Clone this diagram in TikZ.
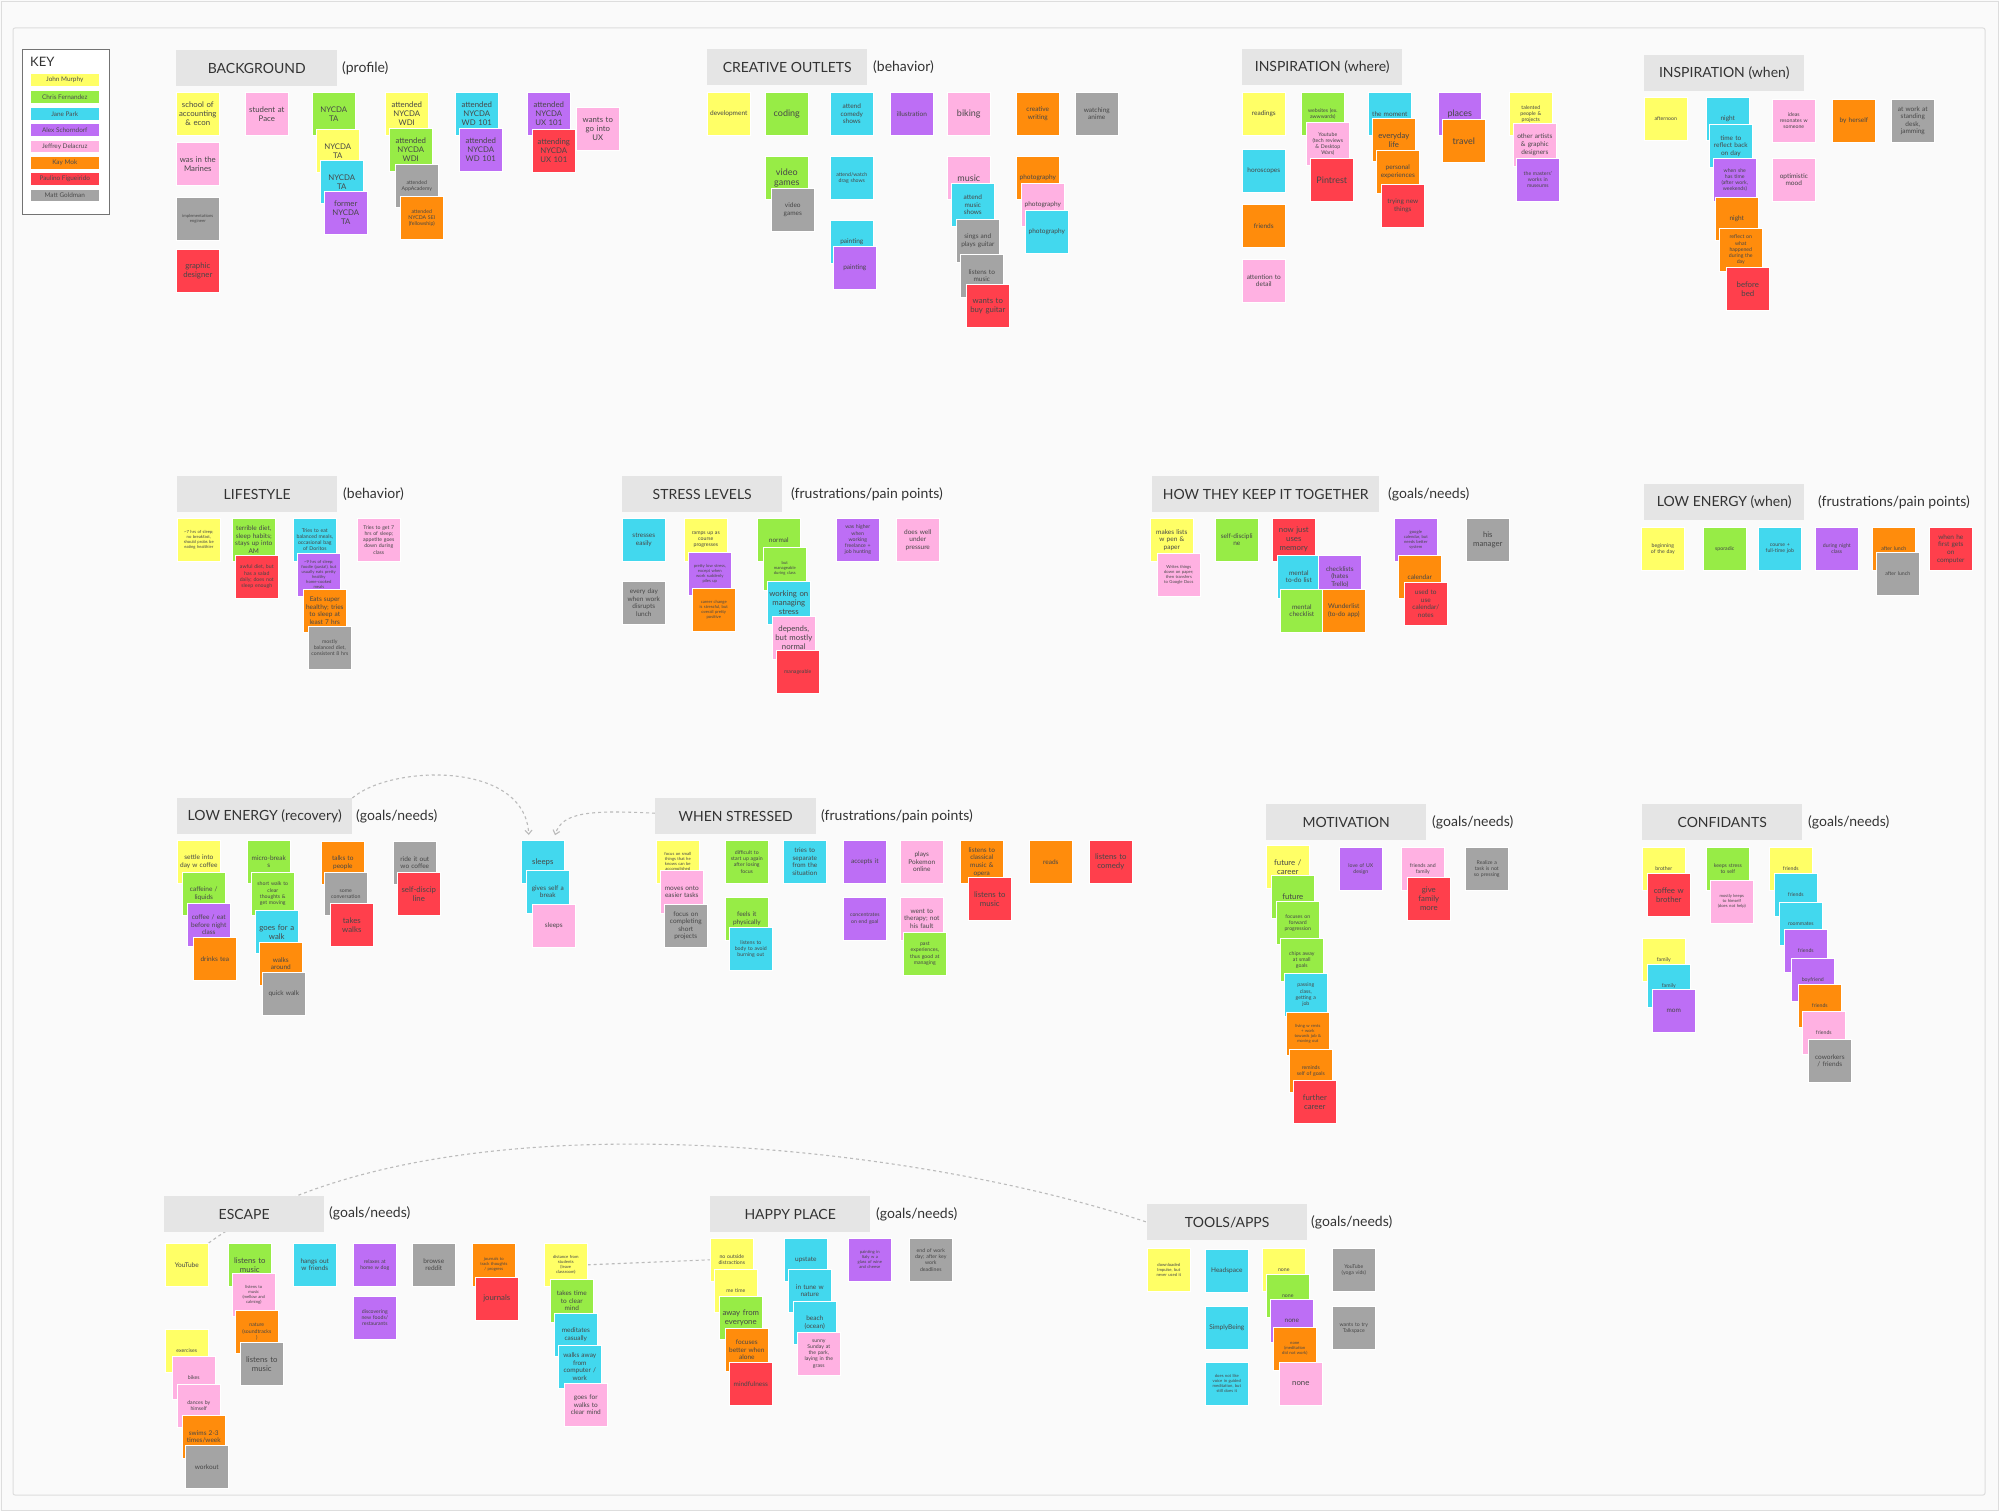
\documentclass[tikz,border=0pt]{standalone}
\usepackage{fontspec}
\setmainfont{Lato}
\usetikzlibrary{arrows.meta,backgrounds}
\definecolor{cY}{HTML}{FFFF66}
\definecolor{cG}{HTML}{97EC46}
\definecolor{cC}{HTML}{42D8EE}
\definecolor{cP}{HTML}{BD6EF5}
\definecolor{cK}{HTML}{FFB1E2}
\definecolor{cO}{HTML}{FF8C0C}
\definecolor{cR}{HTML}{FF3F4C}
\definecolor{cA}{HTML}{A4A4A4}
\definecolor{hdr}{HTML}{E5E5E5}
\definecolor{ink}{HTML}{333333}
\definecolor{canvas}{HTML}{FAFAFA}
\definecolor{framec}{HTML}{DDDDDD}
\definecolor{dashc}{HTML}{BBBBBB}
\newcommand\szA{\fontsize{9}{10.2}\selectfont}
\newcommand\szB{\fontsize{7.8}{9}\selectfont}
\newcommand\szC{\fontsize{6.5}{7.6}\selectfont}
\newcommand\szD{\fontsize{5.2}{6.2}\selectfont}
\newcommand\szE{\fontsize{4.2}{5}\selectfont}
\newcommand\sticky[6]{\node[note,fill=#2,font=#5] (#1) at (#3,#4) {#6};}
\tikzset{
  note/.style={anchor=north west, minimum width=43pt, minimum height=43pt, text width=40pt,
    inner xsep=1.5pt, inner ysep=1pt, align=center, draw=white, line width=0.6pt, text=black!72},
  hdrn/.style={anchor=north west, fill=hdr, minimum height=36pt, inner sep=2pt,
    font=\fontsize{14}{16}\selectfont, text=ink},
  ptxt/.style={anchor=west, font=\fontsize{14}{16}\selectfont, text=ink, inner sep=0pt},
  keybar/.style={anchor=north west, minimum width=69pt, minimum height=12.7pt, inner sep=0pt,
    draw=white, line width=0.5pt, font=\fontsize{6.4}{7}\selectfont, text=black!70},
  dashline/.style={draw=dashc, line width=1.1pt, dash pattern=on 3pt off 3pt},
  dasharrow/.style={dashline, -{Straight Barb[length=4pt,width=7pt]}, shorten >=5pt}
}
\begin{document}
\begin{tikzpicture}[x=1pt,y=-1pt]
\useasboundingbox (0,0) rectangle (1999,1511);
\begin{scope}[on background layer]
\fill[canvas] (0,0) rectangle (1999,1511);
\draw[framec, line width=0.8pt] (1,1) rectangle (1998,1510);
\draw[framec, line width=1pt, rounded corners=2pt] (13,28) rectangle (1985,1495);
\end{scope}

% KEY
\node[draw=black!55, line width=1.2pt, fill=white, anchor=north west, minimum width=87pt, minimum height=165pt, inner sep=0pt] (keybox) at (22,49) {};
\node[anchor=west, font=\fontsize{13}{15}\selectfont, text=ink, inner sep=0pt] (keyT) at (30,62) {KEY};
\node[keybar, fill=cY] (k1) at (30,73.3) {John Murphy};
\node[keybar, fill=cG] (k2) at (30,90.3) {Chris Fernandez};
\node[keybar, fill=cC] (k3) at (30,107.3) {Jane Park};
\node[keybar, fill=cP] (k4) at (30,123.3) {Alex Schorndorf};
\node[keybar, fill=cK] (k5) at (30,139.7) {Jeffrey Delacruz};
\node[keybar, fill=cO] (k6) at (30,156) {Kay Mok};
\node[keybar, fill=cR] (k7) at (30,172.3) {Paulino Figueirido};
\node[keybar, fill=cA] (k8) at (30,188.7) {Matt Goldman};

% HEADERS
\node[hdrn, minimum width=161pt] (bgH) at (176,50) {BACKGROUND};
\node[ptxt] (bgP) at (342,68) {(profile)};
\node[hdrn, minimum width=160pt] (coH) at (707,49) {CREATIVE OUTLETS};
\node[ptxt] (coP) at (873,67) {(behavior)};
\node[hdrn, minimum width=160pt] (iwH) at (1242,49) {INSPIRATION (where)};
\node[hdrn, minimum width=160pt] (inH) at (1644,55) {INSPIRATION (when)};
\node[hdrn, minimum width=160pt] (lsH) at (177,476) {LIFESTYLE};
\node[ptxt] (lsP) at (343,494) {(behavior)};
\node[hdrn, minimum width=160pt] (slH) at (622,476) {STRESS LEVELS};
\node[ptxt] (slP) at (791,494) {(frustrations/pain points)};
\node[hdrn, minimum width=227pt] (hkH) at (1152,476) {HOW THEY KEEP IT TOGETHER};
\node[ptxt] (hkP) at (1388,494) {(goals/needs)};
\node[hdrn, minimum width=160pt] (lwH) at (1644,484) {LOW ENERGY (when)};
\node[ptxt] (lwP) at (1818,502) {(frustrations/pain points)};
\node[hdrn, minimum width=175pt] (lrH) at (177,798) {LOW ENERGY (recovery)};
\node[ptxt] (lrP) at (356,816) {(goals/needs)};
\node[hdrn, minimum width=161pt] (wsH) at (655,798) {WHEN STRESSED};
\node[ptxt] (wsP) at (821,816) {(frustrations/pain points)};
\node[hdrn, minimum width=160pt] (moH) at (1266,804) {MOTIVATION};
\node[ptxt] (moP) at (1432,822) {(goals/needs)};
\node[hdrn, minimum width=160pt] (cfH) at (1642,804) {CONFIDANTS};
\node[ptxt] (cfP) at (1808,822) {(goals/needs)};
\node[hdrn, minimum width=160pt] (esH) at (164,1196) {ESCAPE};
\node[ptxt] (esP) at (329,1213) {(goals/needs)};
\node[hdrn, minimum width=160pt] (hpH) at (710,1196) {HAPPY PLACE};
\node[ptxt] (hpP) at (876,1214) {(goals/needs)};
\node[hdrn, minimum width=160pt] (ttH) at (1147,1204) {TOOLS/APPS};
\node[ptxt] (ttP) at (1311,1222) {(goals/needs)};

% BACKGROUND
\sticky{b1}{cY}{176}{92}{\szB}{school of\\accounting\\\& econ}
\sticky{b2}{cK}{176}{142}{\szB}{was in the\\Marines}
\sticky{b3}{cA}{176}{197}{\szE}{implementations\\engineer}
\sticky{b4}{cR}{176}{249}{\szB}{graphic\\designer}
\sticky{b5}{cK}{245}{92}{\szB}{student at\\Pace}
\sticky{b6}{cG}{312}{92}{\szB}{NYCDA\\TA}
\sticky{b7}{cY}{316}{129}{\szB}{NYCDA\\TA}
\sticky{b8}{cC}{320}{160}{\szB}{NYCDA\\TA}
\sticky{b9}{cP}{324}{191}{\szB}{former\\NYCDA\\TA}
\sticky{b10}{cY}{385}{92}{\szB}{attended\\NYCDA\\WDI}
\sticky{b11}{cG}{389}{128}{\szB}{attended\\NYCDA\\WDI}
\sticky{b12}{cA}{395}{164}{\szD}{attended\\AppAcademy}
\sticky{b13}{cO}{400}{196}{\szD}{attended\\NYCDA SEI\\(fellowship)}
\sticky{b14}{cC}{455}{92}{\szB}{attended\\NYCDA\\WD 101}
\sticky{b15}{cP}{459}{128}{\szB}{attended\\NYCDA\\WD 101}
\sticky{b16}{cP}{527}{92}{\szB}{attended\\NYCDA\\UX 101}
\sticky{b17}{cR}{532}{129}{\szB}{attending\\NYCDA\\UX 101}
\sticky{b18}{cK}{576}{107}{\szB}{wants to\\go into\\UX}

% CREATIVE OUTLETS
\sticky{c1}{cY}{707}{92}{\szC}{development}
\sticky{c2}{cG}{765}{92}{\szA}{coding}
\sticky{c3}{cC}{830}{92}{\szC}{attend\\comedy\\shows}
\sticky{c4}{cP}{890}{92}{\szC}{illustration}
\sticky{c5}{cK}{947}{92}{\szA}{biking}
\sticky{c6}{cO}{1016}{92}{\szC}{creative\\writing}
\sticky{c7}{cA}{1075}{92}{\szC}{watching\\anime}
\sticky{c8}{cG}{765}{156}{\szA}{video\\games}
\sticky{c9}{cA}{771}{188}{\szC}{video\\games}
\sticky{c10}{cC}{830}{156}{\szD}{attend/watch\\drag shows}
\sticky{c11}{cC}{830}{220}{\szC}{painting}
\sticky{c12}{cP}{833}{246}{\szC}{painting}
\sticky{c13}{cK}{947}{156}{\szA}{music}
\sticky{c14}{cC}{951}{183}{\szC}{attend\\music\\shows}
\sticky{c15}{cA}{956}{219}{\szC}{sings and\\plays guitar}
\sticky{c16}{cA}{960}{254}{\szC}{listens to\\music}
\sticky{c17}{cR}{966}{284}{\szB}{wants to\\buy guitar}
\sticky{c18}{cO}{1016}{156}{\szC}{photography}
\sticky{c19}{cK}{1021}{183}{\szC}{photography}
\sticky{c20}{cC}{1025}{210}{\szC}{photography}

% INSPIRATION (where)
\sticky{w1}{cY}{1242}{92}{\szC}{readings}
\sticky{w2}{cC}{1242}{149}{\szC}{horoscopes}
\sticky{w3}{cO}{1242}{204}{\szC}{friends}
\sticky{w4}{cK}{1242}{259}{\szC}{attention to\\detail}
\sticky{w5}{cG}{1301}{92}{\szD}{websites (ex.\\awwwards)}
\sticky{w6}{cK}{1306}{122}{\szD}{Youtube\\(tech reviews\\\& Desktop\\Wars)}
\sticky{w7}{cR}{1310}{158}{\szA}{Pintrest}
\sticky{w8}{cC}{1368}{92}{\szC}{the moment}
\sticky{w9}{cO}{1372}{118}{\szB}{everyday\\life}
\sticky{w10}{cO}{1376}{150}{\szC}{personal\\experiences}
\sticky{w11}{cR}{1381}{184}{\szC}{trying new\\things}
\sticky{w12}{cP}{1438}{92}{\szA}{places}
\sticky{w13}{cO}{1442}{119}{\szA}{travel}
\sticky{w14}{cY}{1509}{92}{\szD}{talented\\people \&\\projects}
\sticky{w15}{cK}{1513}{123}{\szC}{other artists\\\& graphic\\designers}
\sticky{w16}{cP}{1516}{158}{\szD}{the masters'\\works in\\museums}

% INSPIRATION (when)
\sticky{n1}{cY}{1644}{97}{\szD}{afternoon}
\sticky{n2}{cC}{1706}{97}{\szC}{night}
\sticky{n3}{cC}{1709}{124}{\szC}{time to\\reflect back\\on day}
\sticky{n4}{cP}{1713}{158}{\szD}{when she\\has time\\(after work,\\weekends)}
\sticky{n5}{cO}{1715}{197}{\szC}{night}
\sticky{n6}{cO}{1719}{228}{\szD}{reflect on\\what\\happened\\during the\\day}
\sticky{n7}{cR}{1726}{267}{\szB}{before\\bed}
\sticky{n8}{cK}{1772}{99}{\szD}{ideas\\resonates w\\someone}
\sticky{n9}{cK}{1772}{158}{\szC}{optimistic\\mood}
\sticky{n10}{cO}{1832}{99}{\szC}{by herself}
\sticky{n11}{cA}{1891}{99}{\szC}{at work at\\standing\\desk,\\jamming}

% LIFESTYLE
\sticky{l1}{cY}{177}{518}{\szE}{\textasciitilde7 hrs of sleep;\\no breakfast,\\should probs be\\eating healthier}
\sticky{l2}{cG}{232}{518}{\szC}{terrible diet,\\sleep habits;\\stays up into\\AM}
\sticky{l3}{cR}{235}{555}{\szD}{awful diet, but\\has a salad\\daily; does not\\sleep enough}
\sticky{l4}{cC}{293}{518}{\szD}{Tries to eat\\balanced meals,\\occasional bag\\of Doritos}
\sticky{l5}{cP}{297}{553}{\szE}{\textasciitilde9 hrs of sleep;\\foodie (pasta!), but\\usually eats pretty\\healthy\\home-cooked\\meals}
\sticky{l6}{cO}{303}{589}{\szC}{Eats super\\healthy; tries\\to sleep at\\least 7 hrs}
\sticky{l7}{cA}{308}{626}{\szD}{mostly\\balanced diet,\\consistent 8 hrs}
\sticky{l8}{cK}{357}{518}{\szD}{Tries to get 7\\hrs of sleep;\\appetite goes\\down during\\class}

% STRESS LEVELS
\sticky{s1}{cC}{622}{518}{\szC}{stresses\\easily}
\sticky{s2}{cA}{622}{581}{\szC}{every day\\when work\\disrupts\\lunch}
\sticky{s3}{cY}{684}{518}{\szD}{ramps up as\\course\\progresses}
\sticky{s4}{cP}{688}{552}{\szE}{pretty low stress,\\except when\\work suddenly\\piles up}
\sticky{s5}{cO}{692}{588}{\szE}{career change\\is stressful, but\\overall pretty\\positive}
\sticky{s6}{cG}{757}{518}{\szC}{normal}
\sticky{s7}{cG}{763}{547}{\szE}{but\\manageable\\during class}
\sticky{s8}{cC}{767}{581}{\szB}{working on\\managing\\stress}
\sticky{s9}{cK}{772}{616}{\szB}{depends,\\but mostly\\normal}
\sticky{s10}{cR}{776}{650}{\szD}{manageable}
\sticky{s11}{cP}{836}{518}{\szD}{was higher\\when\\working\\freelance +\\job hunting}
\sticky{s12}{cK}{896}{518}{\szC}{does well\\under\\pressure}

% HOW THEY KEEP IT TOGETHER
\sticky{h1}{cY}{1150}{518}{\szC}{makes lists\\w pen \&\\paper}
\sticky{h2}{cK}{1157}{553}{\szE}{Writes things\\down on paper;\\then transfers\\to Google Docs}
\sticky{h3}{cG}{1215}{518}{\szC}{self-discipli\\ne}
\sticky{h4}{cR}{1272}{518}{\szB}{now just\\uses\\memory}
\sticky{h5}{cC}{1277}{555}{\szC}{mental\\to-do list}
\sticky{h6}{cP}{1318}{555}{\szC}{checklists\\(hates\\Trello)}
\sticky{h7}{cG}{1280}{589}{\szC}{mental\\checklist}
\sticky{h8}{cO}{1322}{589}{\szC}{Wunderlist\\(to-do app)}
\sticky{h9}{cP}{1394}{518}{\szE}{google\\calendar, but\\needs better\\system}
\sticky{h10}{cO}{1398}{555}{\szC}{calendar}
\sticky{h11}{cR}{1404}{582}{\szC}{used to\\use\\calendar/\\notes}
\sticky{h12}{cA}{1466}{518}{\szB}{his\\manager}

% LOW ENERGY (when)
\sticky{e1}{cY}{1641}{527}{\szD}{beginning\\of the day}
\sticky{e2}{cG}{1703}{527}{\szD}{sporadic}
\sticky{e3}{cC}{1758}{527}{\szD}{course +\\full-time job}
\sticky{e4}{cP}{1815}{527}{\szD}{during night\\class}
\sticky{e5}{cO}{1872}{527}{\szD}{after lunch}
\sticky{e6}{cA}{1876}{552}{\szD}{after lunch}
\sticky{e7}{cR}{1929}{527}{\szC}{when he\\first gets\\on\\computer}

% LOW ENERGY (recovery)
\sticky{r1}{cY}{177}{840}{\szC}{settle into\\day w coffee}
\sticky{r2}{cG}{182}{872}{\szC}{caffeine /\\liquids}
\sticky{r3}{cP}{187}{903}{\szC}{coffee / eat\\before night\\class}
\sticky{r4}{cO}{193}{937}{\szC}{drinks tea}
\sticky{r5}{cG}{247}{840}{\szC}{micro-break\\s}
\sticky{r6}{cG}{251}{872}{\szD}{short walk to\\clear\\thoughts \&\\get moving}
\sticky{r7}{cC}{255}{910}{\szB}{goes for a\\walk}
\sticky{r8}{cO}{259}{942}{\szC}{walks\\around}
\sticky{r9}{cA}{262}{972}{\szC}{quick walk}
\sticky{r10}{cO}{321}{841}{\szC}{talks to\\people}
\sticky{r11}{cA}{324}{872}{\szD}{some\\conversation}
\sticky{r12}{cR}{330}{903}{\szB}{takes\\walks}
\sticky{r13}{cA}{393}{841}{\szC}{ride it out\\wo coffee}
\sticky{r14}{cR}{397}{872}{\szB}{self-discip\\line}
\sticky{r15}{cC}{521}{840}{\szB}{sleeps}
\sticky{r16}{cC}{526}{870}{\szC}{gives self a\\break}
\sticky{r17}{cK}{532}{904}{\szC}{sleeps}

% WHEN STRESSED
\sticky{t1}{cY}{656}{840}{\szE}{focus on small\\things that he\\knows can be\\accomplished}
\sticky{t2}{cK}{660}{870}{\szC}{moves onto\\easier tasks}
\sticky{t3}{cA}{664}{904}{\szC}{focus on\\completing\\short\\projects}
\sticky{t4}{cG}{725}{840}{\szD}{difficult to\\start up again\\after losing\\focus}
\sticky{t5}{cG}{725}{897}{\szC}{feels it\\physically}
\sticky{t6}{cC}{729}{927}{\szD}{listens to\\body to avoid\\burning out}
\sticky{t7}{cC}{783}{840}{\szC}{tries to\\separate\\from the\\situation}
\sticky{t8}{cP}{843}{840}{\szC}{accepts it}
\sticky{t9}{cP}{843}{897}{\szD}{concentrates\\on end goal}
\sticky{t10}{cK}{900}{840}{\szC}{plays\\Pokemon\\online}
\sticky{t11}{cK}{900}{897}{\szC}{went to\\therapy; not\\his fault}
\sticky{t12}{cG}{903}{932}{\szD}{past\\experiences,\\thus good at\\managing}
\sticky{t13}{cO}{960}{840}{\szC}{listens to\\classical\\music \&\\opera}
\sticky{t14}{cR}{968}{877}{\szB}{listens to\\music}
\sticky{t15}{cO}{1029}{840}{\szC}{reads}
\sticky{t16}{cR}{1089}{840}{\szB}{listens to\\comedy}

% MOTIVATION
\sticky{m1}{cY}{1266}{845}{\szB}{future /\\career}
\sticky{m2}{cG}{1271}{875}{\szB}{future}
\sticky{m3}{cG}{1276}{901}{\szD}{focuses on\\forward\\progression}
\sticky{m4}{cG}{1280}{938}{\szD}{chips away\\at small\\goals}
\sticky{m5}{cC}{1284}{973}{\szD}{passing\\class,\\getting a\\job}
\sticky{m6}{cO}{1286}{1012}{\szE}{living w rents\\+ work\\towards job \&\\moving out}
\sticky{m7}{cO}{1289}{1049}{\szD}{reminds\\self of goals}
\sticky{m8}{cR}{1293}{1080}{\szB}{further\\career}
\sticky{m9}{cP}{1339}{847}{\szD}{love of UX\\design}
\sticky{m10}{cK}{1401}{847}{\szD}{friends and\\family}
\sticky{m11}{cR}{1407}{877}{\szB}{give\\family\\more}
\sticky{m12}{cA}{1465}{847}{\szD}{Realize a\\task is not\\so pressing}

% CONFIDANTS
\sticky{f1}{cY}{1642}{847}{\szD}{brother}
\sticky{f2}{cR}{1647}{873}{\szB}{coffee w\\brother}
\sticky{f3}{cY}{1642}{938}{\szD}{family}
\sticky{f4}{cC}{1647}{964}{\szD}{family}
\sticky{f5}{cP}{1652}{989}{\szC}{mom}
\sticky{f6}{cG}{1706}{847}{\szD}{keeps stress\\to self}
\sticky{f7}{cK}{1710}{880}{\szE}{mostly keeps\\to himself\\(does not help)}
\sticky{f8}{cY}{1769}{847}{\szD}{friends}
\sticky{f9}{cC}{1774}{873}{\szD}{friends}
\sticky{f10}{cC}{1779}{902}{\szD}{roommates}
\sticky{f11}{cP}{1784}{929}{\szD}{friends}
\sticky{f12}{cP}{1791}{958}{\szD}{boyfriend}
\sticky{f13}{cO}{1798}{984}{\szD}{friends}
\sticky{f14}{cK}{1802}{1011}{\szD}{friends}
\sticky{f15}{cA}{1808}{1039}{\szC}{coworkers\\/ friends}

% ESCAPE
\sticky{x1}{cY}{165}{1243}{\szC}{YouTube}
\sticky{x2}{cY}{165}{1329}{\szD}{exercises}
\sticky{x3}{cK}{172}{1356}{\szD}{bikes}
\sticky{x4}{cK}{177}{1384}{\szD}{dances by\\himself}
\sticky{x5}{cO}{182}{1415}{\szC}{swims 2-3\\times/week}
\sticky{x6}{cA}{185}{1445}{\szC}{workout}
\sticky{x7}{cG}{228}{1243}{\szB}{listens to\\music}
\sticky{x8}{cK}{232}{1273}{\szE}{listens to\\music\\(mellow and\\calming)}
\sticky{x9}{cO}{235}{1310}{\szD}{nature\\(soundtracks\\)}
\sticky{x10}{cA}{240}{1342}{\szB}{listens to\\music}
\sticky{x11}{cC}{293}{1243}{\szC}{hangs out\\w friends}
\sticky{x12}{cP}{353}{1243}{\szD}{relaxes at\\home w dog}
\sticky{x13}{cP}{353}{1296}{\szD}{discovering\\new foods/\\restaurants}
\sticky{x14}{cA}{412}{1243}{\szC}{browse\\reddit}
\sticky{x15}{cO}{472}{1243}{\szE}{journals to\\track thoughts\\/ progress}
\sticky{x16}{cR}{475}{1277}{\szB}{journals}
\sticky{x17}{cY}{544}{1243}{\szE}{distance from\\students\\(leave\\classroom)}
\sticky{x18}{cG}{550}{1279}{\szC}{takes time\\to clear\\mind}
\sticky{x19}{cC}{554}{1313}{\szC}{meditates\\casually}
\sticky{x20}{cC}{558}{1345}{\szC}{walks away\\from\\computer /\\work}
\sticky{x21}{cK}{564}{1383}{\szC}{goes for\\walks to\\clear mind}

% HAPPY PLACE
\sticky{p1}{cY}{710}{1238}{\szD}{no outside\\distractions}
\sticky{p2}{cY}{714}{1269}{\szD}{me time}
\sticky{p3}{cG}{719}{1296}{\szB}{away from\\everyone}
\sticky{p4}{cO}{725}{1328}{\szC}{focuses\\better when\\alone}
\sticky{p5}{cR}{729}{1362}{\szC}{mindfulness}
\sticky{p6}{cC}{784}{1238}{\szC}{upstate}
\sticky{p7}{cC}{788}{1269}{\szC}{in tune w\\nature}
\sticky{p8}{cC}{793}{1301}{\szC}{beach\\(ocean)}
\sticky{p9}{cK}{797}{1332}{\szD}{sunny\\Sunday at\\the park,\\laying in the\\grass}
\sticky{p10}{cP}{848}{1238}{\szE}{painting in\\Italy w a\\glass of wine\\and cheese}
\sticky{p11}{cA}{909}{1238}{\szD}{end of work\\day; after key\\work\\deadlines}

% TOOLS/APPS
\sticky{o1}{cY}{1147}{1248}{\szE}{downloaded\\Impulse, but\\never used it}
\sticky{o2}{cC}{1205}{1249}{\szC}{Headspace}
\sticky{o3}{cC}{1205}{1306}{\szC}{SimplyBeing}
\sticky{o4}{cC}{1205}{1362}{\szE}{does not like\\voice in guided\\meditation, but\\still does it}
\sticky{o5}{cY}{1262}{1248}{\szD}{none}
\sticky{o6}{cG}{1266}{1274}{\szD}{none}
\sticky{o7}{cP}{1270}{1299}{\szC}{none}
\sticky{o8}{cO}{1273}{1327}{\szE}{none\\(meditation\\did not work)}
\sticky{o9}{cK}{1279}{1362}{\szB}{none}
\sticky{o10}{cA}{1332}{1248}{\szD}{YouTube\\(yoga vids)}
\sticky{o11}{cA}{1332}{1306}{\szD}{wants to try\\Talkspace}

% CONNECTORS (behind the notes)
\begin{scope}[on background layer]
\draw[dasharrow] (lrH.north east) .. controls (390,765) and (525,760) .. ([xshift=8pt]r15.north west);
\draw[dasharrow] ([yshift=3pt]wsH.west) .. controls (590,810) and (562,812) .. ([xshift=-11pt]r15.north east);
\draw[dashline] (x1.north east) .. controls (420,1090) and (900,1140) .. (ttH.west);
\draw[dashline] (x17.east) -- (p1.west);
\end{scope}
\end{tikzpicture}
\end{document}
